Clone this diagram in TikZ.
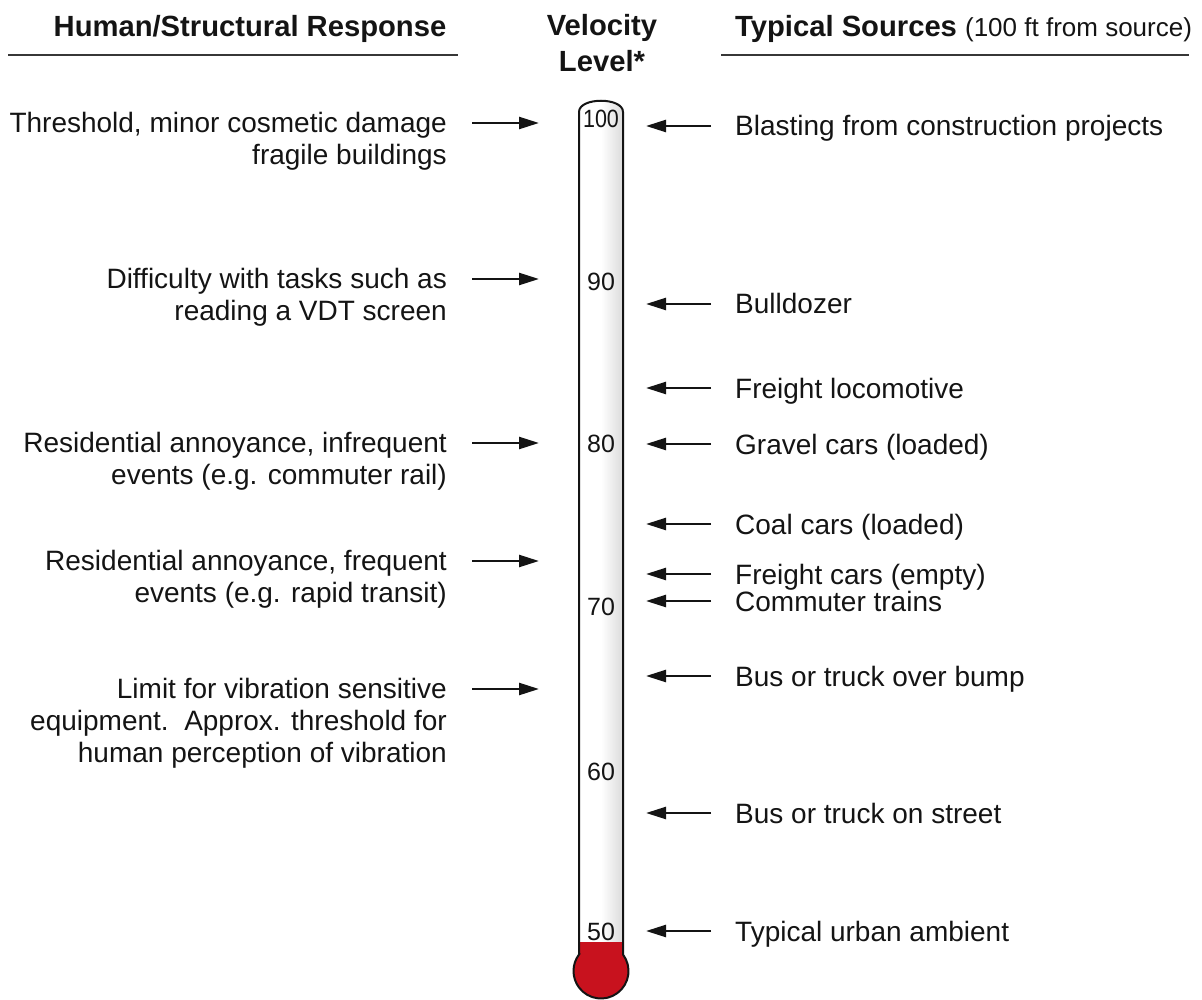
\documentclass[tikz,border=0pt]{standalone}
\usepackage{fontspec}
\setmainfont{Liberation Sans}
\usetikzlibrary{arrows.meta}
\definecolor{bulbred}{RGB}{200,18,30}
\definecolor{ink}{RGB}{20,20,20}
\pgfdeclarehorizontalshading{tubeshade}{100bp}{
  color(0bp)=(gray!40); color(8bp)=(gray!18); color(25bp)=(white);
  color(50bp)=(white); color(72bp)=(gray!25); color(90bp)=(gray!55); color(100bp)=(gray!70)}
\tikzset{
  x=1pt, y=1pt,
  lbl/.style={inner sep=0pt, text=ink, font=\fontsize{28}{32}\selectfont},
  lefttxt/.style={lbl, anchor=north east, align=right},
  righttxt/.style={lbl, anchor=base west},
  head/.style={inner sep=0pt, text=ink, font=\fontsize{29.2}{35}\selectfont\bfseries},
  num/.style={inner sep=0pt, text=ink, font=\fontsize{25}{25}\selectfont, anchor=center},
  ptr/.style={draw=ink, line width=2.4pt, -{Triangle[length=20pt,width=12pt]}},
  rule/.style={draw=ink!85, line width=2pt},
}
\begin{document}
\begin{tikzpicture}
\useasboundingbox (0,0) rectangle (1202,-1000);

% headers
\node[head, anchor=base] (hl) at (250,-37) {Human/Structural Response};
\node[head, anchor=base] (hv1) at (602,-36) {Velocity};
\node[head, anchor=base] (hv2) at (602,-72) {Level*};
\node[head, anchor=base west] (hr) at (735,-37) {Typical Sources \fontsize{26}{32}\selectfont\mdseries(100 ft from source)};
\coordinate (rl1) at (8,-55);
\coordinate (rl2) at (458,-55);
\coordinate (rr1) at (721,-55);
\coordinate (rr2) at (1189,-55);
\draw[rule] (rl1) -- (rl2);
\draw[rule] (rr1) -- (rr2);

% thermometer
\shade[shading=tubeshade]
  (579,-942) -- (579,-112) .. controls (579,-97) and (623,-97) .. (623,-112) -- (623,-942) -- cycle;
\fill[bulbred] (579,-942) rectangle (623,-962);
\fill[bulbred] (601,-971) circle[radius=27.5pt];
\draw[line width=2pt, draw=ink]
  (579,-954.5) -- (579,-112) .. controls (579,-97) and (623,-97) .. (623,-112)
  -- (623,-954.5) arc[start angle=36.87, end angle=-216.87, radius=27.5pt] -- cycle;

% scale numbers
\node[num, xscale=0.86] (n100) at (601,-119) {100};
\node[num] (n90) at (601,-282) {90};
\node[num] (n80) at (601,-444) {80};
\node[num] (n70) at (601,-607) {70};
\node[num] (n60) at (601,-772) {60};
\node[num] (n50) at (601,-932) {50};

% left responses
\node[lefttxt] (l1) at (447,-112) {Threshold, minor cosmetic damage\\fragile buildings};
\node[lefttxt] (l2) at (447,-268) {Difficulty with tasks such as\\reading a VDT screen};
\node[lefttxt] (l3) at (447,-432) {Residential annoyance, infrequent\\events (e.g. commuter rail)};
\node[lefttxt] (l4) at (447,-550) {Residential annoyance, frequent\\events (e.g. rapid transit)};
\node[lefttxt] (l5) at (447,-678) {Limit for vibration sensitive\\equipment.\ \ Approx. threshold for\\human perception of vibration};

\coordinate (l1s) at (472,-123); \coordinate (l1e) at (539,-123);
\coordinate (l2s) at (472,-279); \coordinate (l2e) at (539,-279);
\coordinate (l3s) at (472,-443); \coordinate (l3e) at (539,-443);
\coordinate (l4s) at (472,-561); \coordinate (l4e) at (539,-561);
\coordinate (l5s) at (472,-689); \coordinate (l5e) at (539,-689);
\draw[ptr] (l1s) -- (l1e);
\draw[ptr] (l2s) -- (l2e);
\draw[ptr] (l3s) -- (l3e);
\draw[ptr] (l4s) -- (l4e);
\draw[ptr] (l5s) -- (l5e);

% right sources
\node[righttxt] (r1) at (735,-136) {Blasting from construction projects};
\node[righttxt] (r2) at (735,-314) {Bulldozer};
\node[righttxt] (r3) at (735,-398) {Freight locomotive};
\node[righttxt] (r4) at (735,-454) {Gravel cars (loaded)};
\node[righttxt] (r5) at (735,-534) {Coal cars (loaded)};
\node[righttxt] (r6) at (735,-584) {Freight cars (empty)};
\node[righttxt] (r7) at (735,-611) {Commuter trains};
\node[righttxt] (r8) at (735,-686) {Bus or truck over bump};
\node[righttxt] (r9) at (735,-823) {Bus or truck on street};
\node[righttxt] (r10) at (735,-941) {Typical urban ambient};

\coordinate (r1s) at (711,-126); \coordinate (r1e) at (646,-126);
\coordinate (r2s) at (711,-304); \coordinate (r2e) at (646,-304);
\coordinate (r3s) at (711,-388); \coordinate (r3e) at (646,-388);
\coordinate (r4s) at (711,-444); \coordinate (r4e) at (646,-444);
\coordinate (r5s) at (711,-524); \coordinate (r5e) at (646,-524);
\coordinate (r6s) at (711,-574); \coordinate (r6e) at (646,-574);
\coordinate (r7s) at (711,-601); \coordinate (r7e) at (646,-601);
\coordinate (r8s) at (711,-676); \coordinate (r8e) at (646,-676);
\coordinate (r9s) at (711,-813); \coordinate (r9e) at (646,-813);
\coordinate (r10s) at (711,-931); \coordinate (r10e) at (646,-931);
\draw[ptr] (r1s) -- (r1e);
\draw[ptr] (r2s) -- (r2e);
\draw[ptr] (r3s) -- (r3e);
\draw[ptr] (r4s) -- (r4e);
\draw[ptr] (r5s) -- (r5e);
\draw[ptr] (r6s) -- (r6e);
\draw[ptr] (r7s) -- (r7e);
\draw[ptr] (r8s) -- (r8e);
\draw[ptr] (r9s) -- (r9e);
\draw[ptr] (r10s) -- (r10e);
\end{tikzpicture}
\end{document}
